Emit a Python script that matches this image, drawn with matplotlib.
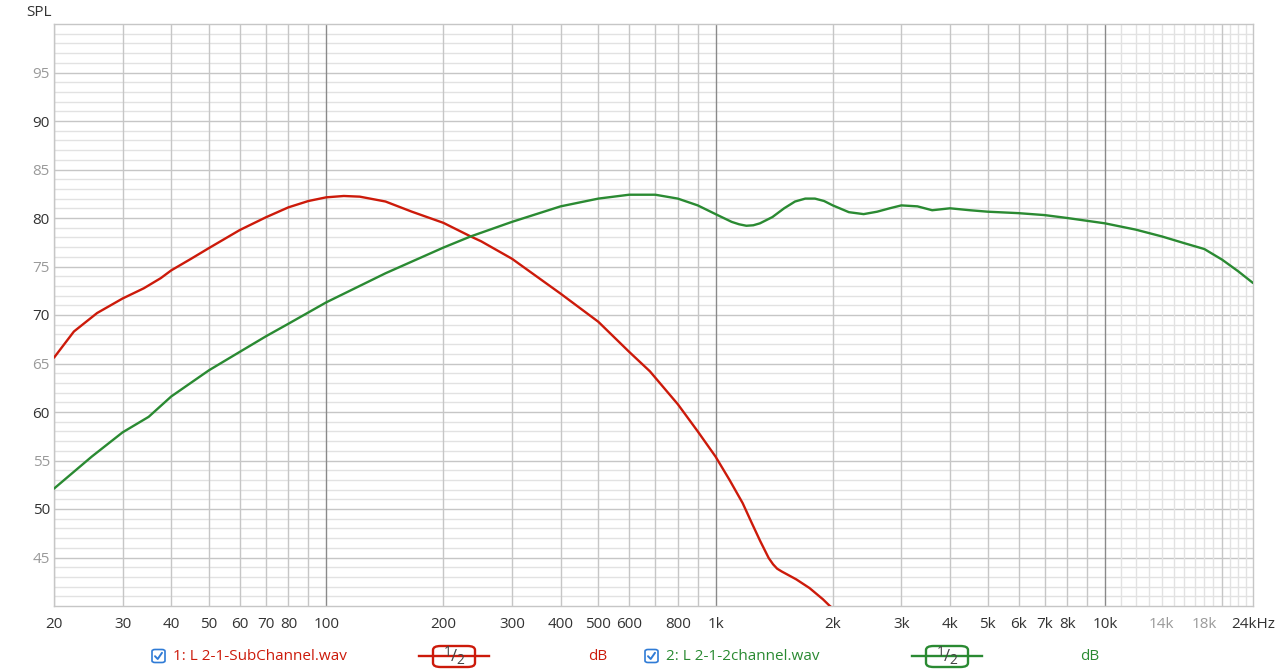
import matplotlib
matplotlib.use("Agg")
import matplotlib.pyplot as plt
from matplotlib.patches import FancyBboxPatch
from matplotlib.lines import Line2D

plt.rcParams["font.family"] = ["Open Sans", "DejaVu Sans"]

# --- data (Hz, dB SPL) ---
sub_freq = [20, 22.5, 25.8, 30, 34, 37.6, 40, 45, 50, 60, 70, 80, 90, 100, 111, 122,
            142, 166, 200, 235, 250, 300, 400, 500, 600, 678, 800, 900, 1000, 1086,
            1174, 1239, 1302, 1369, 1405, 1439, 1480, 1520, 1611, 1743, 1886, 1962, 2050]
sub_db = [65.6, 68.3, 70.2, 71.7, 72.75, 73.8, 74.6, 75.8, 76.9, 78.76, 80.07, 81.1,
          81.75, 82.13, 82.27, 82.2, 81.7, 80.65, 79.5, 78.1, 77.6, 75.8, 72.2, 69.3,
          66.2, 64.2, 60.8, 58.0, 55.4, 53.0, 50.6, 48.55, 46.7, 44.95, 44.3, 43.85,
          43.55, 43.3, 42.75, 41.85, 40.7, 40.03, 39.4]

main_freq = [20, 25, 30, 35, 40, 50, 60, 70, 80, 100, 142, 200, 235, 300, 400, 500,
             600, 700, 800, 900, 1000, 1100, 1150, 1200, 1250, 1300, 1400, 1500, 1600,
             1700, 1800, 1900, 2000, 2200, 2400, 2600, 2800, 3000, 3300, 3600, 4000,
             4500, 5000, 6000, 7000, 8000, 10000, 12000, 14000, 16000, 18000, 20000,
             22000, 24000]
main_db = [52.1, 55.4, 57.9, 59.5, 61.6, 64.3, 66.2, 67.8, 69.1, 71.3, 74.3, 76.95, 78.1,
           79.6, 81.2, 82.0, 82.4, 82.4, 82.0, 81.3, 80.4, 79.6, 79.35, 79.2, 79.25, 79.45,
           80.1, 81.0, 81.7, 82.0, 82.0, 81.75, 81.3, 80.6, 80.4, 80.65, 81.0, 81.3, 81.2,
           80.8, 81.0, 80.8, 80.65, 80.5, 80.3, 80.0, 79.45, 78.8, 78.1, 77.4, 76.8, 75.7,
           74.5, 73.3]

x_ticks = [20, 30, 40, 50, 60, 70, 80, 100, 200, 300, 400, 500, 600, 800,
           1000, 2000, 3000, 4000, 5000, 6000, 7000, 8000, 10000, 14000, 18000, 24000]
x_labels = ["20", "30", "40", "50", "60", "70", "80", "100", "200", "300", "400", "500",
            "600", "800", "1k", "2k", "3k", "4k", "5k", "6k", "7k", "8k", "10k", "14k",
            "18k", "24kHz"]
y_ticks = [45, 50, 55, 60, 65, 70, 75, 80, 85, 90, 95]

legend_names = ["1: L 2-1-SubChannel.wav", "2: L 2-1-2channel.wav"]

RED = "#cc1a0a"
GREEN = "#2a8a32"
TXT = "#333333"
GREY_TXT = "#9a9a9a"

W, H = 1280, 670
fig = plt.figure(figsize=(W / 100, H / 100), dpi=100)
fig.patch.set_facecolor("white")
ax = fig.add_axes([54 / W, 1 - 606 / H, (1253 - 54) / W, (606 - 24) / H])
ax.set_xscale("log")
ax.set_xlim(20, 24000)
ax.set_ylim(40, 100)

# grid: horizontal every 1 dB, stronger every 5 dB
for v in range(41, 100):
    col = "#c6c6c6" if v % 5 == 0 else "#e2e2e2"
    ax.axhline(v, color=col, lw=1.0, zorder=1)

# grid: vertical
for dec in (10, 100, 1000):
    for m in range(2, 10):
        f = dec * m
        if f < 20:
            continue
        ax.axvline(f, color="#c6c6c6", lw=1.0, zorder=1)
for f in (100, 1000, 10000):
    ax.axvline(f, color="#8a8a8a", lw=1.0, zorder=2)
for k in range(11, 24):
    col = "#c6c6c6" if k == 20 else "#e2e2e2"
    ax.axvline(k * 1000, color=col, lw=1.0, zorder=1)

ax.plot(sub_freq, sub_db, color=RED, lw=1.7, zorder=5,
        solid_joinstyle="round", solid_capstyle="round")
ax.plot(main_freq, main_db, color=GREEN, lw=1.7, zorder=5,
        solid_joinstyle="round", solid_capstyle="round")

for s in ax.spines.values():
    s.set_color("#c6c6c6")
    s.set_linewidth(1.0)

ax.set_xticks(x_ticks)
ax.set_xticklabels(x_labels)
ax.xaxis.set_minor_locator(matplotlib.ticker.NullLocator())
ax.set_yticks(y_ticks)
ax.set_yticklabels([str(v) for v in y_ticks])
ax.tick_params(axis="both", length=0, labelsize=11, colors=TXT)
ax.tick_params(axis="x", pad=8)
ax.tick_params(axis="y", pad=3)
for lab in ax.get_xticklabels():
    if lab.get_text() in ("14k", "18k"):
        lab.set_color(GREY_TXT)
for lab, v in zip(ax.get_yticklabels(), y_ticks):
    if v % 10 != 0:
        lab.set_color(GREY_TXT)

fig.text(26 / W, 1 - 12 / H, "SPL", fontsize=11, color=TXT, va="center", ha="left")


def px(x, y):
    return x / W, 1 - y / H


def checkbox(x0, yc):
    blue = "#2f7bd6"
    bx, by = px(x0, yc + 6.5)
    fig.add_artist(FancyBboxPatch((bx, by), 13 / W, 13 / H,
                                  boxstyle="round,pad=0,rounding_size=0.0025",
                                  transform=fig.transFigure, fc="white", ec=blue, lw=1.2))
    xs = [x0 + 3, x0 + 5.7, x0 + 10]
    ys = [yc + 0.2, yc + 3, yc - 3.2]
    fig.add_artist(Line2D([x / W for x in xs], [1 - y / H for y in ys], color=blue,
                          lw=1.4, transform=fig.transFigure, solid_capstyle="round"))


def legend_item(x0, name, color, sym_left, db_x):
    yc = 656
    checkbox(x0, yc)
    fig.text(*px(x0 + 21, yc), name, fontsize=11, color=color, ha="left", va="center")
    # symbol: line with rounded box
    lx0, lx1 = px(sym_left, yc)[0], px(sym_left + 70, yc)[0]
    fig.add_artist(Line2D([lx0, lx1], [1 - yc / H] * 2, color=color, lw=1.7,
                          transform=fig.transFigure))
    bx, by = px(sym_left + 14, 667)
    box = FancyBboxPatch((bx, by), 42 / W, 21 / H,
                         boxstyle="round,pad=0,rounding_size=0.006",
                         transform=fig.transFigure, fc="white", ec=color, lw=1.7)
    fig.add_artist(box)
    cx = sym_left + 35
    fig.text(*px(cx - 6, 653), "1", fontsize=10, color="#444444", ha="center", va="center")
    fig.text(*px(cx, 657), "/", fontsize=12, color="#444444", ha="center", va="center")
    fig.text(*px(cx + 6, 661), "2", fontsize=10, color="#444444", ha="center", va="center")
    fig.text(*px(db_x, yc), "dB", fontsize=11, color=color, ha="center", va="center")


legend_item(152, legend_names[0], RED, 419, 598)
legend_item(645, legend_names[1], GREEN, 912, 1090)

fig.savefig("out.png", dpi=100, facecolor="white")
